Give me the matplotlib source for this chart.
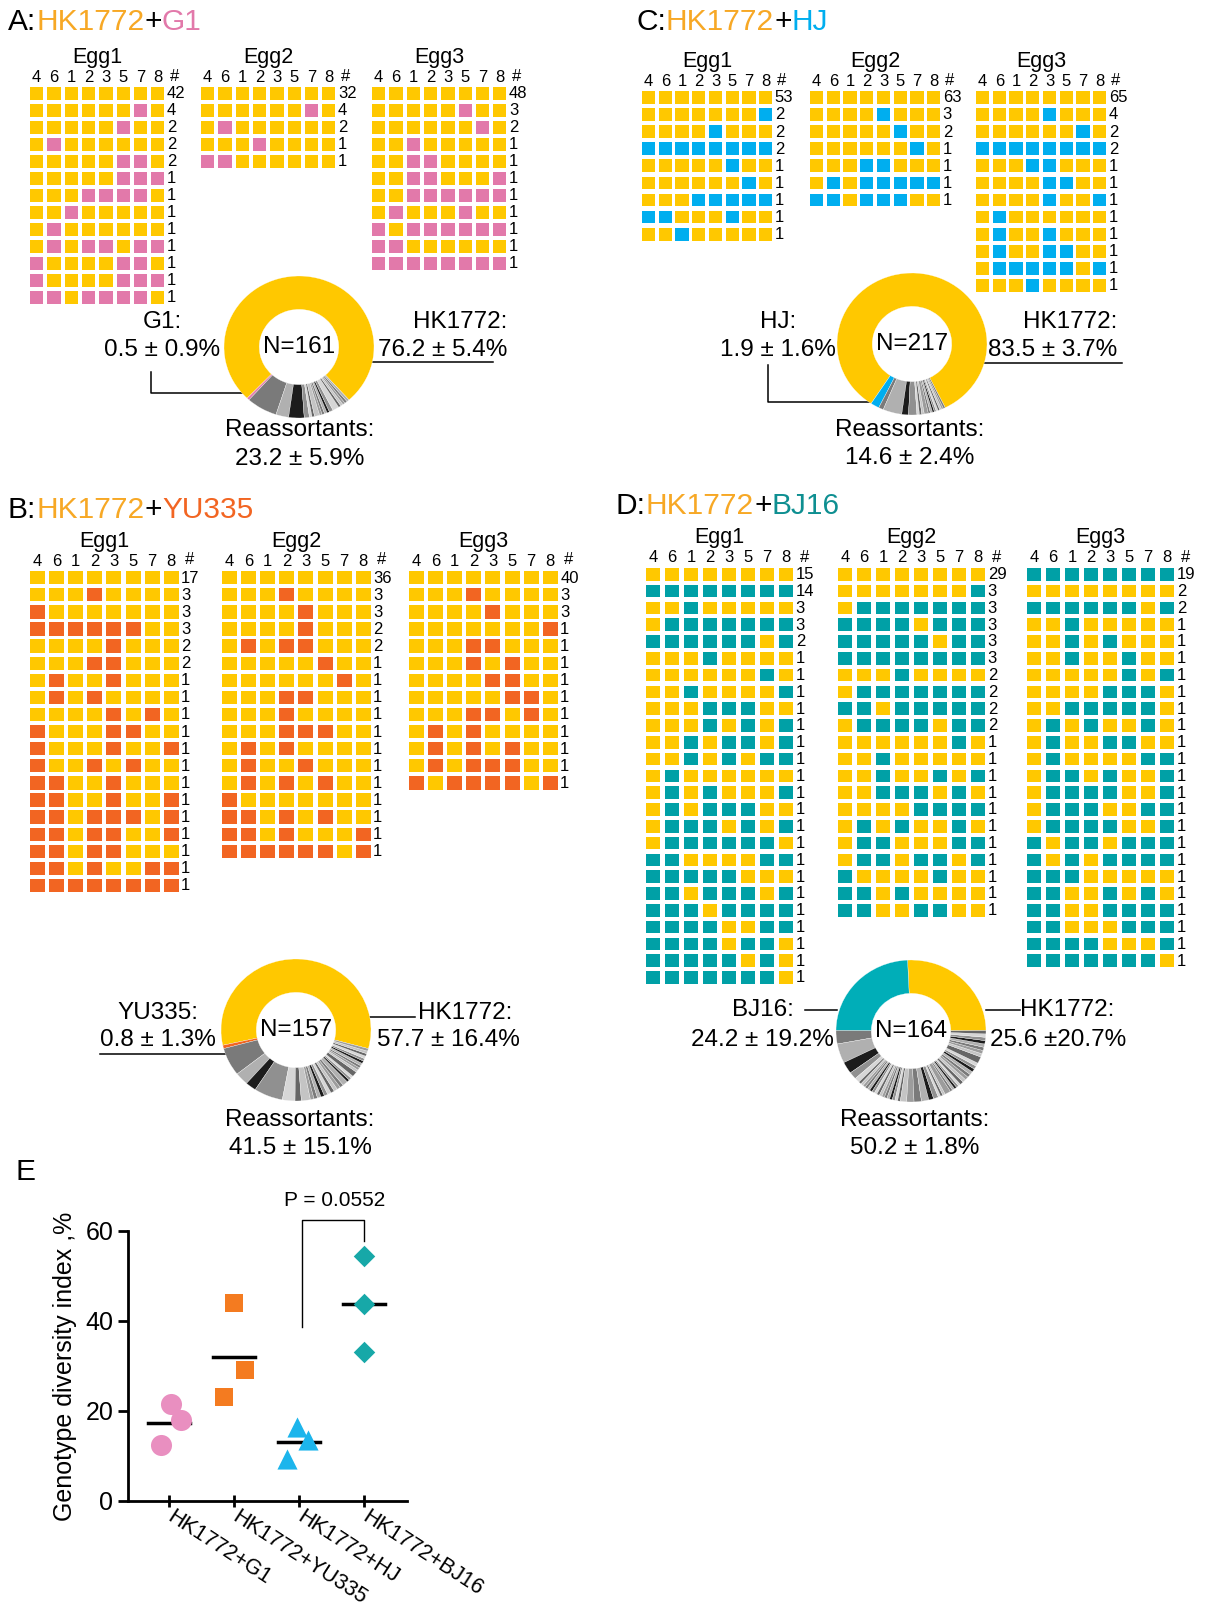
import matplotlib
matplotlib.use("Agg")
import matplotlib.pyplot as plt
from matplotlib.patches import Rectangle
import numpy as np

plt.rcParams['font.family'] = ['Liberation Sans', 'DejaVu Sans']

W, H = 1205, 1609
SEGMENTS = ['4', '6', '1', '2', '3', '5', '7', '8']

# genotypes per egg, one string per row: '0' = HK1772 segment, '1' = partner segment
# A: HK1772 + G1
a_egg1 = ['00000000', '00000010', '00000100', '01000000', '00000110', '00000111', '00011110',
          '00100000', '01000000', '01011011', '10000110', '10000111', '11011110']
a_n1 = [42, 4, 2, 2, 2, 1, 1, 1, 1, 1, 1, 1, 1]
a_egg2 = ['00000000', '00000010', '01000000', '00010000', '11000000']
a_n2 = [32, 4, 2, 1, 1]
a_egg3 = ['00000000', '00000100', '00000010', '00100000', '00110000', '00110001', '00111111',
          '01000100', '10111111', '11000000', '11111111']
a_n3 = [48, 3, 2, 1, 1, 1, 1, 1, 1, 1, 1]

# C: HK1772 + HJ
c_egg1 = ['00000000', '00000001', '00001000', '11111111', '00000100', '00000010', '00011111',
          '11000100', '00100000']
c_n1 = [53, 2, 2, 2, 1, 1, 1, 1, 1]
c_egg2 = ['00000000', '00001000', '00000100', '00000010', '00011000', '01011111', '11011100']
c_n2 = [63, 3, 2, 1, 1, 1, 1]
c_egg3 = ['00000000', '00001000', '00000010', '11111111', '00011000', '00001100', '00001001',
          '01000000', '01001000', '01001100', '01111101', '00010000']
c_n3 = [65, 4, 2, 2, 1, 1, 1, 1, 1, 1, 1, 1]

# B: HK1772 + YU335
b_egg1 = ['00000000', '00010000', '10000000', '11111100', '00001000', '00011000', '01001000',
          '01010000', '00001010', '10001100', '10001001', '10010100', '11001000', '11001001',
          '11011101', '11011001', '11011000', '11010011', '11111111']
b_n1 = [17, 3, 3, 3, 2, 2, 1, 1, 1, 1, 1, 1, 1, 1, 1, 1, 1, 1, 1]
b_egg2 = ['00000000', '00010000', '00001000', '00001000', '01011000', '00000100', '00000010',
          '00011000', '00010000', '00011100', '01010000', '01001000', '01010100', '10000000',
          '11010100', '11010001', '11111101']
b_n2 = [36, 3, 3, 2, 2, 1, 1, 1, 1, 1, 1, 1, 1, 1, 1, 1, 1]
b_egg3 = ['00000000', '00010000', '00001000', '00000001', '00011000', '00010100', '00001100',
          '00000110', '00011010', '01010000', '01010100', '01011100', '10111101']
b_n3 = [40, 3, 3, 1, 1, 1, 1, 1, 1, 1, 1, 1, 1]

# D: HK1772 + BJ16
d_egg1 = ['00000000', '11111111', '00100000', '01111111', '11111101', '00010000', '00000010',
          '00100001', '00011100', '00010101', '00101101', '00101011', '01000000', '01010001',
          '01011100', '01110101', '01111110', '11000011', '11111000', '11011101', '11101111',
          '11110011', '11110110', '11111010', '11111110']
d_n1 = [15, 14, 3, 3, 2, 1, 1, 1, 1, 1, 1, 1, 1, 1, 1, 1, 1, 1, 1, 1, 1, 1, 1, 1, 1]
d_egg2 = ['00000000', '00000001', '01111111', '11110111', '11111011', '11111111', '00010000',
          '01111111', '11011111', '01111011', '00000010', '00100000', '00100101', '00111010',
          '00001111', '01010010', '01100011', '01101101', '10000100', '11010000', '11001100']
d_n2 = [29, 3, 3, 3, 3, 3, 2, 2, 2, 2, 1, 1, 1, 1, 1, 1, 1, 1, 1, 1, 1]
d_egg3 = ['11111111', '00000000', '11111101', '00100000', '00101000', '00100100', '00000101',
          '00001110', '00111110', '01010010', '01001100', '01000011', '01101001', '01111001',
          '01110011', '01111001', '10110111', '10101111', '11100000', '11001010', '11001111',
          '11000111', '11110001', '11111110']
d_n3 = [19, 2, 2, 1, 1, 1, 1, 1, 1, 1, 1, 1, 1, 1, 1, 1, 1, 1, 1, 1, 1, 1, 1, 1]

# E: genotype diversity index, %
groups = ['HK1772+G1', 'HK1772+YU335', 'HK1772+HJ', 'HK1772+BJ16']
gdi_g1 = [21.6, 17.9, 12.4]
gdi_yu335 = [44.0, 29.2, 23.1]
gdi_hj = [16.4, 13.5, 9.4]
gdi_bj16 = [54.4, 43.7, 33.1]

YEL = '#FFC800'
GOLD = '#F7A825'
PINK = '#E279AA'
BLUE = '#00AEEF'
ORANGE = '#F26522'
TEAL = '#00A0A6'
GRAYS = ['#7a7a7a', '#b0b0b0', '#1c1c1c', '#909090', '#d6d6d6', '#666666', '#c4c4c4', '#9c9c9c']

fig = plt.figure(figsize=(W / 100, H / 100), dpi=100)
ax = fig.add_axes([0, 0, 1, 1])
ax.set_xlim(0, W)
ax.set_ylim(H, 0)
ax.axis('off')


def grid(x0, y0, rows, counts, color, px, py, w, h, name):
    for i, g in enumerate(rows):
        for j, c in enumerate(g):
            ax.add_patch(Rectangle((x0 + j * px, y0 + i * py), w, h,
                                   facecolor=YEL if c == '0' else color, edgecolor='none'))
        ax.text(x0 + 7 * px + w + 2.5, y0 + i * py + h / 2 + 0.5, str(counts[i]),
                ha='left', va='center', fontsize=12)
    for j, s in enumerate(SEGMENTS):
        ax.text(x0 + j * px + w / 2, y0 - 10, s, ha='center', va='center', fontsize=12)
    ax.text(x0 + 8 * px + w / 2 - 1, y0 - 11, '#', ha='center', va='center', fontsize=12)
    ax.text(x0 + (7 * px + w) / 2, y0 - 30, name, ha='center', va='center', fontsize=15.5)


def donut(cx, cy, eggs, color, rx=75, ry=71):
    axd = fig.add_axes([(cx - rx) / W, 1 - (cy + ry) / H, 2 * rx / W, 2 * ry / H])
    freq, order = {}, []
    total = 0
    for rows, counts in eggs:
        tot = sum(counts)
        total += tot
        for g, n in zip(rows, counts):
            if g not in freq:
                freq[g] = 0.0
                order.append(g)
            freq[g] += n / tot / len(eggs)
    hk, other = '0' * 8, '1' * 8
    reas = [g for g in order if g not in (hk, other)]
    vals = [freq.get(hk, 0), freq.get(other, 0)] + [freq[g] for g in reas]
    cols = [YEL, color] + [GRAYS[i % len(GRAYS)] for i in range(len(reas))]
    r_frac = sum(freq[g] for g in reas)
    axd.pie(vals, colors=cols, startangle=-90 + r_frac * 180, counterclock=True, radius=1,
            wedgeprops=dict(width=0.47, edgecolor='white', linewidth=0.2))
    axd.set_aspect('auto')
    axd.set_xlim(-1, 1)
    axd.set_ylim(-1, 1)
    axd.text(0, 0, 'N=%d' % total, ha='center', va='center', fontsize=17.5)


def title(x, y, parts, size=21.5):
    r = fig.canvas.get_renderer()
    for s, c in parts:
        t = ax.text(x, y, s, color=c, fontsize=size, ha='left', va='center')
        x += t.get_window_extent(renderer=r).width


def label(x, y, s, ha='center'):
    ax.text(x, y, s, ha=ha, va='center', fontsize=17.5)


def line(xs, ys):
    ax.plot(xs, ys, color='black', lw=1.1)


# panel A
title(8, 22, [('A:', 'black'), ('HK1772', GOLD), ('+', 'black'), ('G1', PINK)])
for x0, rows, n, name in zip([30, 201, 372], [a_egg1, a_egg2, a_egg3], [a_n1, a_n2, a_n3],
                             ['Egg1', 'Egg2', 'Egg3']):
    grid(x0, 87, rows, n, PINK, 17.3, 17.0, 13.3, 12.7, name)
donut(299, 347, [(a_egg1, a_n1), (a_egg2, a_n2), (a_egg3, a_n3)], PINK)
label(162, 322, 'G1:')
label(162, 350, '0.5 ± 0.9%')
label(507, 322, 'HK1772:', 'right')
label(507, 350, '76.2 ± 5.4%', 'right')
label(300, 430, 'Reassortants:')
label(300, 459, '23.2 ± 5.9%')
line([151, 151, 245], [372, 393, 393])
line([372, 493], [362, 362])

# panel C
title(636, 22, [('C:', 'black'), ('HK1772', GOLD), ('+', 'black'), ('HJ', BLUE)])
for x0, rows, n, name in zip([642, 810, 976], [c_egg1, c_egg2, c_egg3], [c_n1, c_n2, c_n3],
                             ['Egg1', 'Egg2', 'Egg3']):
    grid(x0, 91, rows, n, BLUE, 16.7, 17.1, 13.3, 12.7, name)
donut(912, 344, [(c_egg1, c_n1), (c_egg2, c_n2), (c_egg3, c_n3)], BLUE)
label(778, 322, 'HJ:')
label(778, 350, '1.9 ± 1.6%')
label(1117, 322, 'HK1772:', 'right')
label(1117, 350, '83.5 ± 3.7%', 'right')
label(910, 430, 'Reassortants:')
label(910, 458, '14.6 ± 2.4%')
line([768, 768, 870], [365, 402, 402])
line([983, 1122], [363, 363])

# panel B
title(8, 510, [('B:', 'black'), ('HK1772', GOLD), ('+', 'black'), ('YU335', ORANGE)])
for x0, rows, n, name in zip([30, 222, 409], [b_egg1, b_egg2, b_egg3], [b_n1, b_n2, b_n3],
                             ['Egg1', 'Egg2', 'Egg3']):
    grid(x0, 571, rows, n, ORANGE, 19.1, 17.1, 15, 13.3, name)
donut(296, 1030, [(b_egg1, b_n1), (b_egg2, b_n2), (b_egg3, b_n3)], ORANGE)
label(158, 1013, 'YU335:')
label(158, 1040, '0.8 ± 1.3%')
label(418, 1013, 'HK1772:', 'left')
label(377, 1040, '57.7 ± 16.4%', 'left')
label(300, 1120, 'Reassortants:')
label(300, 1148, '41.5 ± 15.1%')
line([100, 227], [1054, 1054])
line([370, 415], [1017, 1017])

# panel D
title(616, 506, [('D:', 'black'), ('HK1772', GOLD), ('+', 'black'), ('BJ16', '#0E8F91')])
for x0, rows, n, name in zip([646, 838, 1027], [d_egg1, d_egg2, d_egg3], [d_n1, d_n2, d_n3],
                             ['Egg1', 'Egg2', 'Egg3']):
    grid(x0, 568, rows, n, TEAL, 19.0, 16.8, 14.3, 12.5, name)
donut(911, 1031, [(d_egg1, d_n1), (d_egg2, d_n2), (d_egg3, d_n3)], '#00AEB8')
label(763, 1010, 'BJ16:')
label(762, 1040, '24.2 ± 19.2%')
label(1020, 1010, 'HK1772:', 'left')
label(990, 1040, '25.6 ±20.7%', 'left')
label(915, 1120, 'Reassortants:')
label(915, 1148, '50.2 ± 1.8%')
line([805, 837], [1010, 1010])
line([986, 1020], [1010, 1010])

# panel E
ax.text(16, 1172, 'E', ha='left', va='center', fontsize=21.5)
axe = fig.add_axes([128 / W, 1 - 1501 / H, 279 / W, 270 / H])
series = [gdi_g1, gdi_yu335, gdi_hj, gdi_bj16]
markers = ['o', 's', '^', 'D']
sizes = [230, 180, 210, 120]
mcols = ['#E98FC0', '#F47B20', '#1CB5EC', '#17A8A8']
jitter = [[0.03, 0.19, -0.13], [0.0, 0.165, -0.155], [-0.025, 0.14, -0.19], [0, 0, 0]]
for i, v in enumerate(series):
    axe.scatter(i + np.array(jitter[i]), v, marker=markers[i], s=sizes[i], color=mcols[i],
                linewidths=0, zorder=4, clip_on=False)
    m = np.mean(v)
    axe.plot([i - 0.32, i + 0.32], [m, m], color='black', lw=2.5, zorder=3)
axe.plot([2.05, 2.05, 3.0, 3.0], [38.7, 62.4, 62.4, 57.7], color='black', lw=1, clip_on=False)
axe.text(2.55, 66.7, 'P = 0.0552', ha='center', va='center', fontsize=15)
axe.set_xlim(-0.63, 3.66)
axe.set_ylim(0, 60)
axe.set_yticks([0, 20, 40, 60])
axe.set_xticks(range(4))
axe.set_xticklabels(groups, rotation=-33, ha='left', va='center', rotation_mode='anchor')
axe.tick_params(axis='y', labelsize=18, length=7, width=2, direction='out')
axe.tick_params(axis='x', labelsize=15.5, length=9, width=2, direction='inout', pad=6)
for s in ['top', 'right']:
    axe.spines[s].set_visible(False)
for s in ['left', 'bottom']:
    axe.spines[s].set_linewidth(2)
axe.set_facecolor('none')
axe.set_ylabel('Genotype diversity index ,%', fontsize=18, labelpad=6)

fig.savefig('out.png', dpi=100)
